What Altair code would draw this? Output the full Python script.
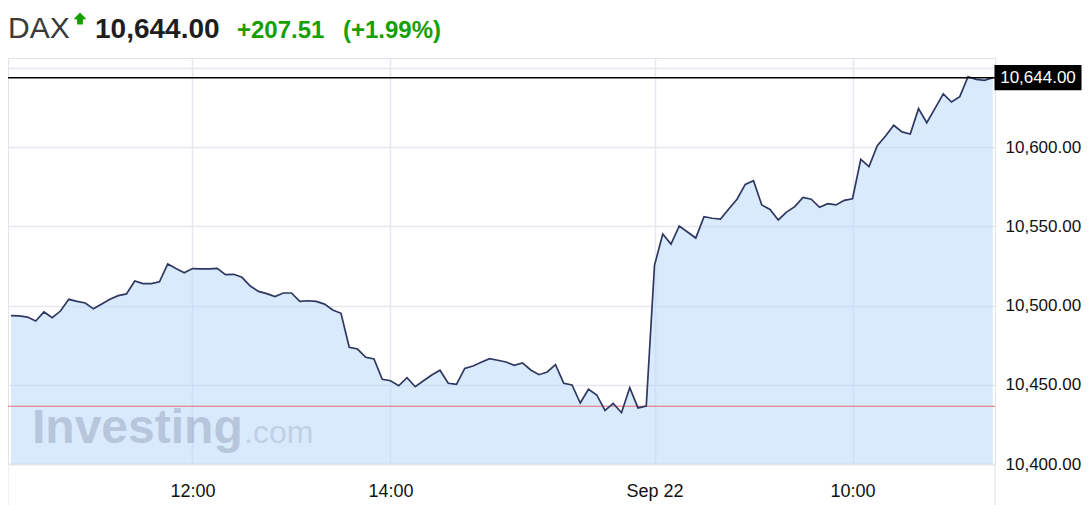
import altair as alt
import pandas as pd

# ---------------- data ----------------
symbol = "DAX"
last_price = 10644.00
change = 207.51
change_pct = 1.99

prices = [
    10493.7, 10493.5, 10492.8, 10490.3, 10496.0, 10492.4, 10496.6, 10504.0, 10502.7, 10501.7,
    10498.0, 10501.0, 10504.0, 10506.3, 10507.4, 10515.6, 10513.9, 10513.9, 10515.1, 10526.3,
    10523.4, 10520.8, 10523.4, 10523.2,
    10523.2, 10523.6, 10519.6, 10519.8, 10517.9, 10512.4, 10509.0, 10507.6, 10505.7, 10508.0,
    10508.0, 10502.7, 10503.1, 10502.7, 10501.0, 10497.3, 10495.2, 10473.7, 10472.6, 10467.4,
    10466.3, 10453.5, 10452.6,
    10449.4, 10454.5, 10448.8, 10452.6, 10456.2, 10459.2, 10451.0, 10450.3, 10460.4, 10461.9,
    10464.2, 10466.5, 10465.5, 10464.4, 10462.3, 10463.8, 10459.4, 10456.4, 10458.1, 10462.7,
    10451.0, 10449.9, 10438.5, 10447.2, 10443.6, 10433.9, 10438.3, 10432.4, 10448.2, 10435.4,
    10436.6,
    10525.5, 10545.2, 10538.9, 10550.3, 10546.5, 10542.7, 10556.2, 10555.2, 10554.7, 10561.0,
    10567.2, 10576.6, 10578.9, 10563.6, 10560.8, 10554.1, 10559.1, 10562.5, 10568.4, 10567.2,
    10562.1, 10564.4, 10563.6, 10566.5, 10567.5, 10592.4, 10587.8, 10601.0, 10607.1, 10613.9,
    10609.7, 10608.4, 10624.4, 10615.5, 10624.6, 10633.7, 10628.6, 10632.0, 10644.6, 10642.9,
    10642.3, 10644.0,
]
tick_index = [22, 46, 78, 102]
tick_labels = ["12:00", "14:00", "Sep 22", "10:00"]
y_ticks = [10400, 10450, 10500, 10550, 10600, 10650]

prev_close = round(last_price - change, 2)

df = pd.DataFrame({"i": list(range(len(prices))), "price": prices})
last_df = pd.DataFrame({"price": [last_price], "label": [f"{last_price:,.2f}"]})
prev_df = pd.DataFrame({"price": [prev_close]})

# ---------------- style ----------------
W, H = 987, 406
FONT = "Liberation Sans"
GREEN = "#16a000"
GRID = "#e6e6ee"

label_expr = " : ".join(
    f"datum.value == {i} ? '{l}'" for i, l in zip(tick_index, tick_labels)
) + " : ''"

x_scale = alt.Scale(domain=[-0.36, len(prices) - 1 + 0.27], nice=False, zero=False)
y_scale = alt.Scale(domain=[10400, 10656.4], nice=False, zero=False)

x_axis = alt.Axis(
    values=tick_index, labelExpr=label_expr, grid=True, gridColor=GRID, gridWidth=1.5,
    ticks=False, domain=True, domainColor="#e3e3ea", domainWidth=1.5,
    labelFontSize=18, labelColor="#111111", labelFont=FONT, labelPadding=18,
    title=None, labelFlush=False, labelOverlap=False,
)
y_axis = alt.Axis(
    orient="right", values=y_ticks,
    labelExpr=f"datum.value >= {y_ticks[-1]} ? '' : format(datum.value, ',.2f')",
    grid=True, gridColor=GRID, gridWidth=1.5, ticks=False, domain=False,
    labelFontSize=17, labelColor="#111111", labelFont=FONT, labelPadding=10,
    title=None, labelFlush=False, labelOverlap=False,
)

X = alt.X("i:Q", scale=x_scale, axis=x_axis)
Y = alt.Y("price:Q", scale=y_scale, axis=y_axis)

area = alt.Chart(df).mark_area(color="#bcd9fb", opacity=0.55).encode(
    x=X, y=Y, y2=alt.datum(y_ticks[0])
)
line = alt.Chart(df).mark_line(color="#2e3860", strokeWidth=1.7).encode(x=X, y=Y)

prev_rule = alt.Chart(prev_df).mark_rule(color="#e06b6b", strokeWidth=1).encode(y=Y)
last_rule = alt.Chart(last_df).mark_rule(color="#000000", strokeWidth=1.5).encode(y=Y)

box_shape = "M-1,-0.29 L1,-0.29 L1,0.29 L-1,0.29 Z"
last_box = alt.Chart(last_df).mark_point(
    shape=box_shape, size=87 * 87, filled=True, color="#000000", opacity=1
).encode(x=alt.value(W + 43), y=Y)
last_text = alt.Chart(last_df).mark_text(
    font=FONT, fontSize=17, color="#ffffff", align="center", baseline="middle"
).encode(x=alt.value(W + 43), y=Y, text="label:N")

# frame lines continuing below the plot
frame_df = pd.DataFrame({"k": [0]})
left_edge = alt.Chart(frame_df).mark_rule(color="#e3e3ea", strokeWidth=1).encode(
    x=alt.value(0), y=alt.value(H), y2=alt.value(H + 41)
)
right_edge = alt.Chart(frame_df).mark_rule(color="#e3e3ea", strokeWidth=1).encode(
    x=alt.value(W), y=alt.value(H), y2=alt.value(H + 41)
)

# watermark
wm1 = alt.Chart(pd.DataFrame({"t": ["Investing"]})).mark_text(
    font=FONT, fontSize=48, fontWeight="bold", color="#7f8ea6", opacity=0.38,
    align="left", baseline="alphabetic"
).encode(x=alt.value(24), y=alt.value(385), text="t:N")
wm2 = alt.Chart(pd.DataFrame({"t": [".com"]})).mark_text(
    font=FONT, fontSize=32, color="#7f8ea6", opacity=0.28,
    align="left", baseline="alphabetic"
).encode(x=alt.value(236), y=alt.value(385), text="t:N")

# header
h_sym = alt.Chart(pd.DataFrame({"t": [symbol]})).mark_text(
    font=FONT, fontSize=30, color="#3a3a3a", align="left", baseline="alphabetic"
).encode(x=alt.value(0), y=alt.value(-20), text="t:N")
arrow_shape = "M0,-1 L1,0.05 L0.45,0.05 L0.45,0.85 L-0.45,0.85 L-0.45,0.05 L-1,0.05 Z"
h_arrow = alt.Chart(pd.DataFrame({"t": ["up"]})).mark_point(
    shape=arrow_shape, size=169, filled=True, color=GREEN, opacity=1
).encode(x=alt.value(72), y=alt.value(-39))
h_price = alt.Chart(pd.DataFrame({"t": [f"{last_price:,.2f}"]})).mark_text(
    font=FONT, fontSize=28, fontWeight="bold", color="#1e1e1e", align="left",
    baseline="alphabetic"
).encode(x=alt.value(87), y=alt.value(-20), text="t:N")
h_chg = alt.Chart(pd.DataFrame({"t": [f"+{change:,.2f}"]})).mark_text(
    font=FONT, fontSize=24, fontWeight="bold", color=GREEN, align="left",
    baseline="alphabetic"
).encode(x=alt.value(229), y=alt.value(-20), text="t:N")
h_pct = alt.Chart(pd.DataFrame({"t": [f"(+{change_pct:.2f}%)"]})).mark_text(
    font=FONT, fontSize=24, fontWeight="bold", color=GREEN, align="left",
    baseline="alphabetic"
).encode(x=alt.value(335), y=alt.value(-20), text="t:N")

chart = alt.layer(
    area, wm1, wm2, prev_rule, line, last_rule, last_box, last_text,
    left_edge, right_edge, h_sym, h_arrow, h_price, h_chg, h_pct,
).properties(
    width=W, height=H,
    autosize=alt.AutoSizeParams(type="none"),
    padding={"left": 0, "top": 50, "right": 88, "bottom": 41},
    background="#ffffff",
).configure_view(stroke="#e3e3ea", strokeWidth=1)

chart.save("out.html", embed_options={"renderer": "svg", "actions": False})
